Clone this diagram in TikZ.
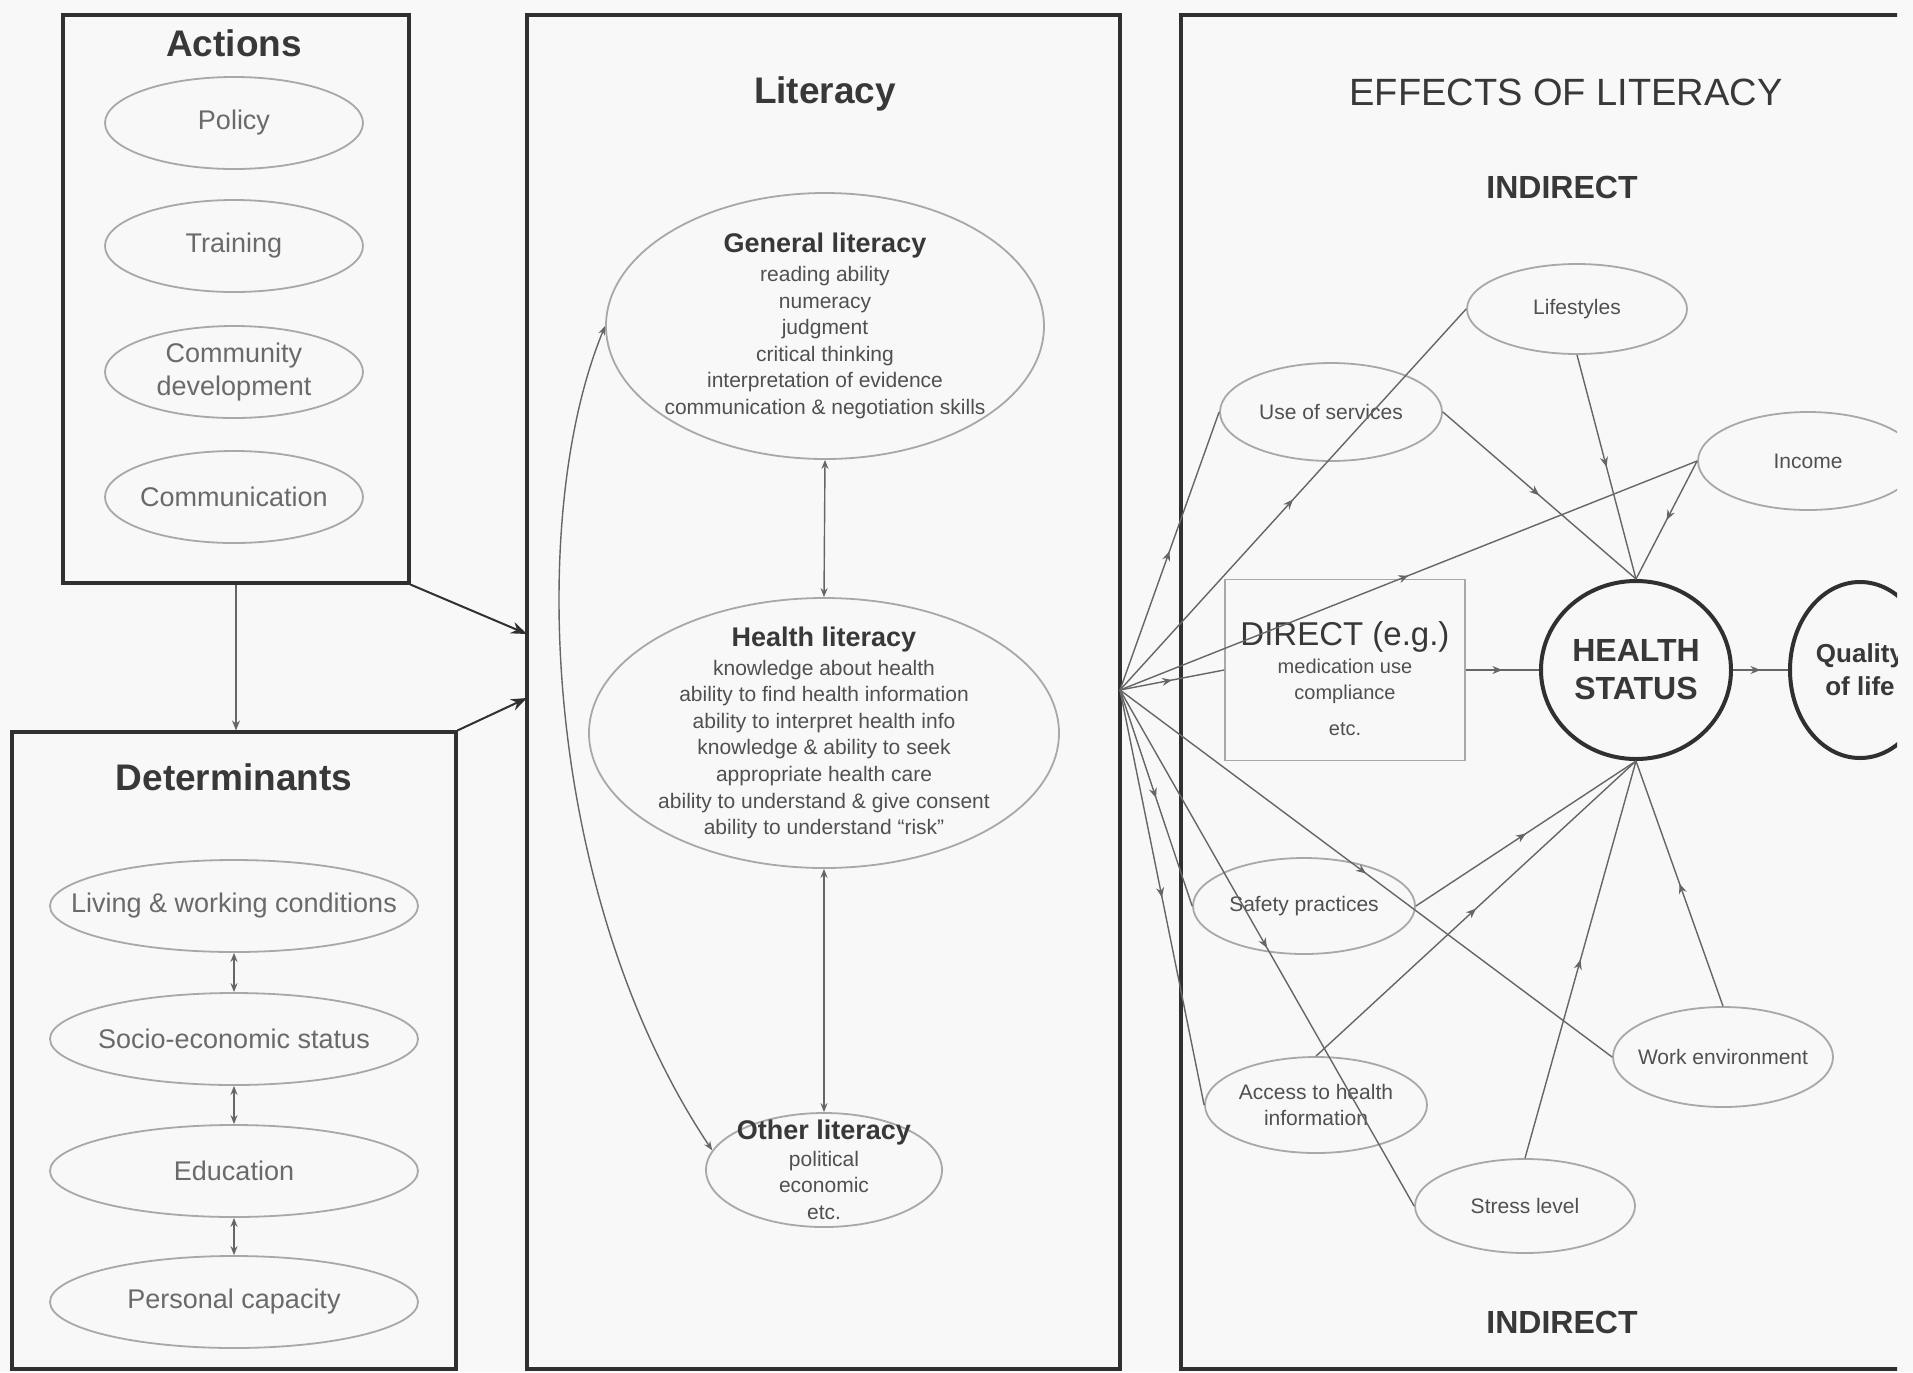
\documentclass[tikz,border=0pt]{standalone}
\usepackage{fontspec}
\setmainfont{Liberation Sans}
\usetikzlibrary{shapes.geometric,arrows.meta,decorations.markings}
\definecolor{bgc}{HTML}{F8F8F8}
\definecolor{boxc}{HTML}{303030}
\definecolor{ellc}{HTML}{A8A8A8}
\definecolor{txtl}{HTML}{6A6A6A}
\definecolor{txtm}{HTML}{505050}
\definecolor{titc}{HTML}{383838}
\definecolor{conc}{HTML}{666666}
\newcommand\litheadfont{\fontsize{13.5}{15}\selectfont\bfseries\color{titc}}
\begin{document}
\begin{tikzpicture}[x=0.5pt,y=-0.5pt,
  bigbox/.style={draw=boxc, line width=1.6pt, rectangle, inner sep=0pt},
  ttl/.style={text=titc, font=\fontsize{18.5}{22}\selectfont\bfseries},
  lell/.style={ellipse, draw=ellc, line width=0.9pt, inner xsep=-30pt, inner ysep=-15pt, text=txtl, font=\fontsize{13.5}{16.5}\selectfont, align=center},
  rell/.style={ellipse, draw=ellc, line width=0.9pt, inner xsep=-30pt, inner ysep=-15pt, text=txtm, font=\fontsize{10.5}{13.4}\selectfont, align=center},
  litell/.style={ellipse, draw=ellc, line width=0.9pt, inner xsep=-4pt, inner ysep=-9pt, text=txtm, font=\fontsize{10.5}{13.3}\selectfont, align=center},
  conn/.style={draw=conc, line width=0.7pt},
  dbl/.style={conn, {Stealth[length=4.5pt,width=3.5pt]}-{Stealth[length=4.5pt,width=3.5pt]}},
  onearr/.style={conn, -{Stealth[length=5pt,width=4pt]}},
  bigarr/.style={draw=boxc, line width=1pt, -{Stealth[length=8pt,width=6pt]}},
  midarr/.style={conn, postaction={decorate}, decoration={markings, mark=at position 0.5 with {\arrow{Stealth[length=5pt,width=4pt]}}}}
]
\useasboundingbox (0,0) rectangle (1913,1372);
\fill[bgc] (0,0) rectangle (1913,1372);
\begin{scope}
\clip (0,0) rectangle (1897,1372);

% ---------- Actions ----------
\node[bigbox, minimum width=173pt, minimum height=284pt] (actbox) at (236,299) {};
\node[ttl] (acttitle) at (234,43) {Actions};
\node[lell, minimum width=129pt, minimum height=46pt] (policy) at (234,123) {Policy};
\node[lell, minimum width=129pt, minimum height=46pt] (training) at (234,246) {Training};
\node[lell, minimum width=129pt, minimum height=46pt] (commdev) at (234,372) {Community\\development};
\node[lell, minimum width=129pt, minimum height=46pt] (communic) at (234,497) {Communication};

% ---------- Determinants ----------
\node[bigbox, minimum width=222pt, minimum height=318.5pt] (detbox) at (234,1050.5) {};
\node[ttl] (dettitle) at (234,777) {Determinants};
\node[lell, minimum width=184pt, minimum height=46pt] (living) at (234,906) {Living \& working conditions};
\node[lell, minimum width=184pt, minimum height=46pt] (socio) at (234,1039) {Socio-economic status};
\node[lell, minimum width=184pt, minimum height=46pt] (educ) at (234,1171) {Education};
\node[lell, minimum width=184pt, minimum height=46pt] (perscap) at (234,1302) {Personal capacity};

\draw[dbl] (living.south) -- (socio.north);
\draw[dbl] (socio.south) -- (educ.north);
\draw[dbl] (educ.south) -- (perscap.north);

% ---------- Literacy ----------
\node[bigbox, minimum width=296.5pt, minimum height=677pt] (litbox) at (823.5,692) {};
\node[ttl] (littitle) at (825,94) {Literacy};
\node[litell, minimum width=219pt, minimum height=133pt] (gen) at (825,326)
  {{\litheadfont General literacy}\\[1pt] reading ability\\ numeracy\\ judgment\\ critical thinking\\ interpretation of evidence\\ communication \& negotiation skills};
\node[litell, minimum width=235pt, minimum height=135pt] (health) at (824,733)
  {{\litheadfont Health literacy}\\[1pt] knowledge about health\\ ability to find health information\\ ability to interpret health info\\ knowledge \& ability to seek\\ appropriate health care\\ ability to understand \& give consent\\ ability to understand ``risk''};
\node[litell, minimum width=118pt, minimum height=57pt] (other) at (824,1170)
  {{\litheadfont Other literacy}\\[0pt] political\\ economic\\ etc.};

\draw[dbl] (gen.south) -- (health.north);
\draw[dbl] (health.south) -- (other.north);
\draw[dbl] (gen.west) .. controls (525,520) and (545,900) .. (other.170);

\coordinate (litin1) at (527,634);
\coordinate (litin2) at (527,698);
\draw[onearr] (actbox.south) -- (actbox.south |- detbox.north);
\draw[bigarr] (actbox.south east) -- (litin1);
\draw[bigarr] (detbox.north east) -- (litin2);

% ---------- Effects of literacy ----------
\draw[boxc, line width=1.6pt] (1905,15) -- (1181,15) -- (1181,1369) -- (1905,1369);
\node[text=titc, font=\fontsize{19}{22}\selectfont] (efftitle) at (1566,92) {EFFECTS OF LITERACY};
\node[text=titc, font=\fontsize{16}{19}\selectfont\bfseries] (indtop) at (1562,187) {INDIRECT};
\node[text=titc, font=\fontsize{16}{19}\selectfont\bfseries] (indbot) at (1562,1322) {INDIRECT};

\node[rell, minimum width=110pt, minimum height=45pt] (life) at (1577,309) {Lifestyles};
\node[rell, minimum width=111pt, minimum height=49pt] (use) at (1331,412) {Use of services};
\node[rell, minimum width=110pt, minimum height=49pt] (income) at (1808,461) {Income};
\node[rell, minimum width=111pt, minimum height=48pt] (safety) at (1304,906) {Safety practices};
\node[rell, minimum width=111pt, minimum height=48pt] (access) at (1316,1105) {Access to health\\information};
\node[rell, minimum width=110pt, minimum height=50pt] (work) at (1723,1057) {Work environment};
\node[rell, minimum width=110pt, minimum height=47pt] (stress) at (1525,1206) {Stress level};

\node[draw=ellc, line width=0.8pt, rectangle, inner sep=0pt, minimum width=120pt, minimum height=90.5pt] (direct) at (1345,670) {};
\node[align=center, text=txtm, font=\fontsize{10}{13}\selectfont] (directtxt) at (1345,679)
  {{\fontsize{16.5}{19}\selectfont\color{titc}DIRECT (e.g.)}\\[1pt] medication use\\ compliance\\[5pt] etc.};

\node[ellipse, draw=boxc, line width=2pt, inner sep=-20pt, minimum width=95pt, minimum height=89pt,
  align=center, text=titc, font=\fontsize{16}{19}\selectfont\bfseries] (hs) at (1636,670) {HEALTH\\STATUS};
\node[ellipse, draw=boxc, line width=2pt, inner sep=-20pt, minimum width=70pt, minimum height=88pt,
  align=center, text=titc, font=\fontsize{13}{16.5}\selectfont\bfseries] (qual) at (1860,670) {Quality\\of life};

\coordinate (fan) at (1120,690);
\draw[midarr] (fan) -- (use.west);
\draw[midarr] (fan) -- (life.west);
\draw[midarr] (fan) -- (income.west);
\draw[midarr] (fan) -- (direct.west);
\draw[midarr] (fan) -- (work.west);
\draw[midarr] (fan) -- (stress.west);
\draw[midarr] (fan) -- (safety.west);
\draw[midarr] (fan) -- (access.west);

\draw[midarr] (life.south) -- (hs.north);
\draw[midarr] (use.east) -- (hs.north);
\draw[midarr] (income.west) -- (hs.north);
\draw[midarr] (safety.east) -- (hs.south);
\draw[midarr] (access.north) -- (hs.south);
\draw[midarr] (stress.north) -- (hs.south);
\draw[midarr] (work.north) -- (hs.south);
\draw[midarr] (direct.east) -- (hs.west);
\draw[midarr] (hs.east) -- (qual.west);
\end{scope}
\end{tikzpicture}
\end{document}
